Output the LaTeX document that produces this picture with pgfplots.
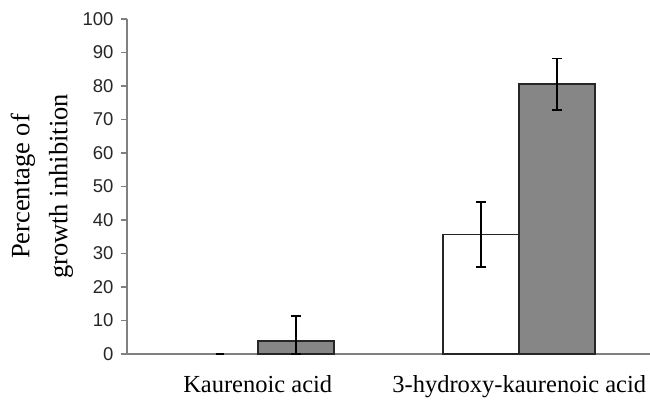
\documentclass[border=0pt]{standalone}
\usepackage{fontspec}
\setmainfont{Liberation Serif}
\newfontfamily\arialfont{Liberation Sans}
\usepackage{pgfplots}
\pgfplotsset{compat=1.18}
\definecolor{barGray}{RGB}{134,134,134}
\definecolor{axGray}{RGB}{128,128,128}
\begin{document}
\begin{tikzpicture}
\begin{axis}[
  at={(0,0)}, anchor=south west,
  scale only axis, width=523pt, height=335pt,
  xmin=-0.5, xmax=1.5, ymin=0, ymax=100,
  axis x line=bottom, axis y line=left,
  axis line style={-, draw=axGray, line width=1.3pt},
  tick align=outside, major tick length=6pt,
  ytick={0,10,...,100},
  y tick style={draw=axGray, line width=1.3pt},
  /pgf/number format/assume math mode=true,
  yticklabel style={font=\arialfont\fontsize{18.5}{18.5}\selectfont, text=black!85, xshift=-4pt},
  xtick={0,1},
  xticklabels={Kaurenoic acid, 3-hydroxy-kaurenoic acid},
  x tick style={draw=none},
  xticklabel style={font=\fontsize{24.5}{24.5}\selectfont, anchor=base, yshift=-32pt},
  extra x ticks={-0.5,0.5,1.5},
  extra x tick labels={},
  extra x tick style={tick style={draw=axGray, line width=1.3pt}},
  ylabel={Percentage of\\growth inhibition},
  every axis y label/.style={at={(rel axis cs:0,0.5)}, xshift=-85pt, rotate=90, anchor=center,
     align=center, font=\fontsize{26.5}{38}\selectfont},
  ybar, bar width=76pt,
]
\addplot[fill=white, draw=black!85, line width=1.7pt, bar shift=-38pt,
  error bars/.cd, y dir=both, y explicit,
  error bar style={draw=black, line width=1.7pt},
  error mark options={rotate=90, mark size=5pt, line width=1.7pt, draw=black}]
  coordinates {(1,35.7) +- (0,9.7)};
\addplot[fill=barGray, draw=black!85, line width=1.7pt, bar shift=38pt,
  error bars/.cd, y dir=both, y explicit,
  error bar style={draw=black, line width=1.7pt},
  error mark options={rotate=90, mark size=5pt, line width=1.7pt, draw=black}]
  coordinates {(0,3.8) += (0,7.5) -= (0,3.8) (1,80.5) +- (0,7.7)};
\addplot[draw=none, fill=none, bar shift=-38pt, forget plot,
  error bars/.cd, y dir=both, y explicit,
  error bar style={draw=black, line width=1.7pt},
  error mark options={rotate=90, mark size=4pt, line width=1.7pt, draw=black}]
  coordinates {(0,0) +- (0,0)};
\end{axis}
\pgfresetboundingbox
\path[use as bounding box] (-127pt,-48pt) rectangle (523pt,354pt);
\end{tikzpicture}
\end{document}
